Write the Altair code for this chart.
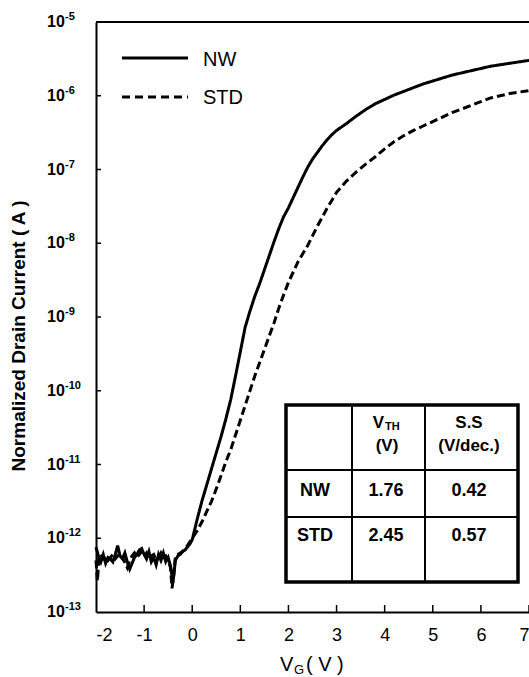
import altair as alt
import pandas as pd

# ---------------- data ----------------
nw_x = [-2.00, -1.95, -1.90, -1.85, -1.80, -1.75, -1.70, -1.65, -1.60, -1.55,
        -1.50, -1.45, -1.40, -1.35, -1.30, -1.25, -1.20, -1.15, -1.10, -1.05,
        -1.00, -0.95, -0.90, -0.85, -0.80, -0.75, -0.70, -0.65, -0.60, -0.55,
        -0.50, -0.45, -0.40, -0.35, -0.30, -0.25, -0.20, -0.15, -0.10, -0.05,
        0.0, 0.1, 0.2, 0.3, 0.4, 0.5, 0.6, 0.7, 0.8, 0.9,
        1.0, 1.1, 1.2, 1.3, 1.4, 1.5, 1.6, 1.7, 1.8, 1.9,
        2.0, 2.1, 2.2, 2.3, 2.4, 2.5, 2.6, 2.7, 2.8, 2.9,
        3.0, 3.2, 3.4, 3.6, 3.8, 4.0, 4.2, 4.4, 4.6, 4.8,
        5.0, 5.2, 5.4, 5.6, 5.8, 6.0, 6.2, 6.4, 6.6, 6.8, 7.0]
nw_log10 = [-12.12, -12.24, -12.32, -12.22, -12.34, -12.26, -12.28, -12.32, -12.22, -12.10,
            -12.24, -12.28, -12.20, -12.32, -12.42, -12.34, -12.26, -12.22, -12.16, -12.14,
            -12.22, -12.28, -12.18, -12.32, -12.26, -12.36, -12.22, -12.30, -12.20, -12.32,
            -12.26, -12.38, -12.60, -12.30, -12.24, -12.22, -12.18, -12.16, -12.12, -12.08,
            -12.02, -11.75, -11.50, -11.28, -11.06, -10.84, -10.62, -10.38, -10.12, -9.80,
            -9.47, -9.14, -8.92, -8.72, -8.55, -8.36, -8.17, -7.98, -7.80, -7.64,
            -7.52, -7.38, -7.24, -7.10, -6.97, -6.86, -6.77, -6.68, -6.60, -6.53,
            -6.47, -6.38, -6.28, -6.19, -6.11, -6.05, -5.99, -5.94, -5.89, -5.84,
            -5.80, -5.76, -5.72, -5.69, -5.66, -5.63, -5.60, -5.58, -5.56, -5.54, -5.52]

std_x = [-2.00, -1.97, -1.94, -1.90, -1.85, -1.80, -1.75, -1.70, -1.65, -1.60,
         -1.55, -1.50, -1.45, -1.40, -1.35, -1.30, -1.25, -1.20, -1.15, -1.10,
         -1.05, -1.00, -0.95, -0.90, -0.85, -0.80, -0.75, -0.70, -0.65, -0.60,
         -0.55, -0.50, -0.45, -0.42, -0.38, -0.35, -0.30, -0.25, -0.20, -0.15,
         -0.10, -0.05,
         0.0, 0.1, 0.2, 0.3, 0.4, 0.5, 0.6, 0.7, 0.8, 0.9,
         1.0, 1.1, 1.2, 1.3, 1.4, 1.5, 1.6, 1.7, 1.8, 1.9,
         2.0, 2.2, 2.4, 2.6, 2.8, 3.0, 3.2, 3.4, 3.6, 3.8,
         4.0, 4.2, 4.4, 4.6, 4.8, 5.0, 5.2, 5.4, 5.6, 5.8,
         6.0, 6.2, 6.4, 6.6, 6.8, 7.0]
std_log10 = [-12.30, -12.58, -12.26, -12.22, -12.28, -12.25, -12.30, -12.26, -12.22, -12.28,
             -12.24, -12.20, -12.26, -12.33, -12.40, -12.30, -12.24, -12.20, -12.26, -12.22,
             -12.18, -12.24, -12.20, -12.28, -12.24, -12.22, -12.30, -12.26, -12.20, -12.26,
             -12.24, -12.30, -12.40, -12.68, -12.48, -12.24, -12.22, -12.20, -12.18, -12.14,
             -12.10, -12.05,
             -12.00, -11.90, -11.78, -11.64, -11.50, -11.33, -11.15, -10.96, -10.80, -10.60,
             -10.40, -10.20, -10.00, -9.80, -9.62, -9.44, -9.26, -9.08, -8.88, -8.70,
             -8.53, -8.25, -8.03, -7.77, -7.53, -7.31, -7.16, -7.04, -6.93, -6.83,
             -6.72, -6.62, -6.54, -6.47, -6.41, -6.35, -6.29, -6.23, -6.18, -6.13,
             -6.08, -6.03, -6.00, -5.97, -5.95, -5.93]

series_names = ["NW", "STD"]
x_tick_values = [-2, -1, 0, 1, 2, 3, 4, 5, 6, 7]
y_exponents = [-5, -6, -7, -8, -9, -10, -11, -12, -13]
y_title = "Normalized Drain Current ( A )"
x_title_main = "V"
x_title_sub = "G"
x_title_unit = "( V )"
table_rows = ["NW", "STD"]
table_vth = ["1.76", "2.45"]
table_ss = ["0.42", "0.57"]
table_head_vth = ["V", "TH", "(V)"]
table_head_ss = ["S.S", "(V/dec.)"]

# ---------------- build tables ----------------
rows = []
for name, xs, ls in [("NW", nw_x, nw_log10), ("STD", std_x, std_log10)]:
    for i, (xv, lv) in enumerate(zip(xs, ls)):
        rows.append({"series": name, "vg": xv, "id": 10 ** lv, "order": i})
df = pd.DataFrame(rows)

ydf = pd.DataFrame({"v": [10.0 ** e for e in y_exponents],
                    "sup": [str(e) for e in y_exponents]})
inner_y = ydf[(ydf.v < 1e-5 * 0.99) & (ydf.v > 1e-13 * 1.01)]
xtdf = pd.DataFrame({"t": x_tick_values[1:]})

W, H = 433, 590
FONT = "Liberation Sans"

xscale = alt.Scale(domain=[-2, 7], nice=False, zero=False)
yscale = alt.Scale(type="log", domain=[1e-13, 1e-5], nice=False)

one = alt.Data(values=[{}])


def txt(text, x, y, size, weight="bold", align="center", baseline="middle", angle=0):
    kw = dict(font=FONT, fontSize=size, fontWeight=weight, align=align,
              baseline=baseline, color="black")
    if angle:
        kw["angle"] = angle
    return alt.Chart(one).mark_text(**kw).encode(
        x=alt.value(x), y=alt.value(y), text=alt.value(text))


def hrule(x1, x2, y, width=2, dash=None):
    kw = dict(color="black", strokeWidth=width)
    if dash:
        kw["strokeDash"] = dash
    return alt.Chart(one).mark_rule(**kw).encode(
        x=alt.value(x1), x2=alt.value(x2), y=alt.value(y))


def vrule(x, y1, y2, width=2):
    return alt.Chart(one).mark_rule(color="black", strokeWidth=width).encode(
        x=alt.value(x), y=alt.value(y1), y2=alt.value(y2))


lines = alt.Chart(df).mark_line(strokeWidth=3, color="black").encode(
    x=alt.X("vg:Q", scale=xscale,
            axis=alt.Axis(title=None, values=x_tick_values, ticks=False, tickSize=0,
                          grid=False, domainColor="black", domainWidth=2,
                          labelFont=FONT, labelFontSize=18, labelColor="black",
                          labelPadding=23, labelBaseline="middle",
                          labelExpr="datum.value + ''", labelOverlap=False)),
    y=alt.Y("id:Q", scale=yscale,
            axis=alt.Axis(title=None, labels=False, ticks=False, grid=False,
                          domainColor="black", domainWidth=2)),
    strokeDash=alt.StrokeDash("series:N", scale=alt.Scale(domain=series_names,
                              range=[[1, 0], [8, 4]]), legend=None),
    detail="series:N",
    order="order:Q",
)

ytick_rules = alt.Chart(inner_y).mark_rule(color="black", strokeWidth=1.5).encode(
    y=alt.Y("v:Q", scale=yscale), x=alt.value(0), x2=alt.value(5))
xtick_rules = alt.Chart(xtdf).mark_rule(color="black", strokeWidth=1.5).encode(
    x=alt.X("t:Q", scale=xscale), y=alt.value(H - 7), y2=alt.value(H))

ylab_main = alt.Chart(ydf).mark_text(font=FONT, fontSize=16, fontWeight="bold",
                                     align="left", baseline="middle", color="black").encode(
    y=alt.Y("v:Q", scale=yscale), x=alt.value(-49), text=alt.value("10"))
ylab_sup = alt.Chart(ydf).mark_text(font=FONT, fontSize=11, fontWeight="bold",
                                    align="left", baseline="middle", dy=-5,
                                    color="black").encode(
    y=alt.Y("v:Q", scale=yscale), x=alt.value(-31), text="sup:N")

top_border = hrule(0, W, 0, width=2)

layers = [lines, ytick_rules, xtick_rules, ylab_main, ylab_sup, top_border]

# axis titles
layers.append(txt(y_title, -77, 314, 19, angle=270))
layers.append(txt(x_title_main, 184, 643, 20, weight="normal", align="left"))
layers.append(txt(x_title_sub, 198, 648, 13, weight="normal", align="left"))
layers.append(txt(x_title_unit, 210, 643, 20, weight="normal", align="left"))

# legend
layers.append(hrule(26, 92, 36, width=3))
layers.append(hrule(26, 92, 75, width=3, dash=[8, 5]))
layers.append(txt(series_names[0], 107, 38, 20, weight="normal", align="left"))
layers.append(txt(series_names[1], 107, 76, 20, weight="normal", align="left"))

# table
TL, TR, TT, TB = 190, 422, 383, 560
C1, C2 = 256, 329
R1, R2 = 448, 495
layers.append(alt.Chart(one).mark_rect(fill="white", stroke="black", strokeWidth=3.5).encode(
    x=alt.value(TL), x2=alt.value(TR), y=alt.value(TT), y2=alt.value(TB)))
layers.append(vrule(C1, TT, TB))
layers.append(vrule(C2, TT, TB))
layers.append(hrule(TL, TR, R1))
layers.append(hrule(TL, TR, R2))
layers.append(txt(table_head_vth[0], 288, 401, 17, align="right"))
layers.append(txt(table_head_vth[1], 289, 405, 11, align="left"))
layers.append(txt(table_head_vth[2], 291, 424, 17))
layers.append(txt(table_head_ss[0], 373, 401, 17))
layers.append(txt(table_head_ss[1], 373, 424, 17))
for ry, rname, v1, v2 in zip([469, 514], table_rows, table_vth, table_ss):
    layers.append(txt(rname, 219, ry, 18))
    layers.append(txt(v1, 290, ry, 18))
    layers.append(txt(v2, 373, ry, 18))

chart = alt.layer(*layers).properties(
    width=W, height=H,
    autosize=alt.AutoSizeParams(type="none"),
    padding={"left": 96, "top": 22, "right": 0, "bottom": 65},
    background="white",
).configure_view(stroke=None)

chart.save("out.html", embed_options={"renderer": "svg", "actions": False})
